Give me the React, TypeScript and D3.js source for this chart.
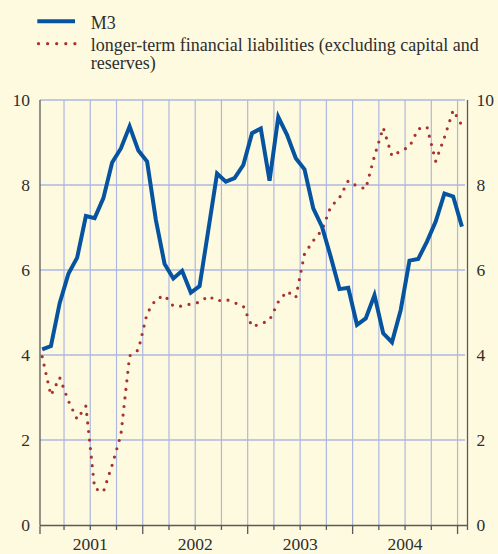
import React from "react";
import * as d3 from "d3";

// Monthly observations, Jan 2001 – Jan 2005 (annual % changes)
const m3Values = [
  4.13, 4.21, 5.22, 5.91, 6.29, 7.27, 7.22, 7.69, 8.53, 8.86, 9.38, 8.81,
  8.55, 7.18, 6.14, 5.8, 5.98, 5.47, 5.62, 6.94, 8.27, 8.08, 8.16, 8.47,
  9.22, 9.33, 8.1, 9.6, 9.18, 8.63, 8.37, 7.45, 7.02, 6.31, 5.55, 5.58,
  4.71, 4.86, 5.41, 4.51, 4.3, 5.06, 6.22, 6.26, 6.67, 7.14, 7.8, 7.73,
  7.02,
];
const longerTermValues = [
  3.96, 3.05, 3.47, 2.92, 2.49, 2.8, 0.86, 0.78, 1.41, 2.12, 3.98, 4.12,
  4.98, 5.31, 5.4, 5.15, 5.15, 5.2, 5.24, 5.39, 5.27, 5.31, 5.23, 5.15,
  4.67, 4.73, 4.82, 5.25, 5.5, 5.35, 6.38, 6.69, 6.94, 7.49, 7.7, 8.1,
  7.97, 7.91, 8.68, 9.35, 8.68, 8.8, 8.9, 9.32, 9.37, 8.56, 9.12, 9.76,
  9.4,
];
const years = ["2001", "2002", "2003", "2004"];
const yTicks = [0, 2, 4, 6, 8, 10];
const seriesLabels = [
  "M3",
  "longer-term financial liabilities (excluding capital and",
  "reserves)",
];

const W = 498;
const H = 554;
const BG = "#FEFADF";
const GRID = "#AEB7DF";
const AXIS = "#5a5a5a";
const TEXT = "#2e2e2e";
const BLUE = "#0653A0";
const RED = "#A8332E";
const FONT = "'Liberation Serif', 'Times New Roman', serif";

export default function App() {
  const nMonths = 49;
  const x = d3.scaleLinear().domain([0, nMonths]).range([37.8, 466.3]);
  const y = d3.scaleLinear().domain([0, 10]).range([525, 100]);
  const plotLeft = 40;
  const plotRight = 467.5;
  const gridRight = 465;

  const line = d3
    .line<number>()
    .x((_, i) => x(i + 0.5))
    .y((d) => y(d));

  const quarterIdx = d3.range(3, 49, 3); // Apr 2001 ... Jan 2005
  const allTickIdx = d3.range(0, 49, 3);

  return (
    <svg
      width={W}
      height={H}
      style={{ position: "fixed", top: 0, left: 0, display: "block" }}
    >
      <rect x={0} y={0} width={W} height={H} fill={BG} />

      {/* legend */}
      <line x1={37.3} x2={75} y1={21.3} y2={21.3} stroke={BLUE} strokeWidth={4} />
      {d3.range(5).map((k) => (
        <circle key={k} cx={38.5 + k * 9.1} cy={43.7} r={1.6} fill={RED} />
      ))}
      <g fontFamily={FONT} fontSize={18} fill={TEXT}>
        <text x={90.7} y={28.8}>{seriesLabels[0]}</text>
        <text x={90.7} y={50.5}>{seriesLabels[1]}</text>
        <text x={90.7} y={69}>{seriesLabels[2]}</text>
      </g>

      {/* grid */}
      {yTicks.slice(1).map((t) => (
        <line
          key={"h" + t}
          x1={plotLeft}
          x2={gridRight}
          y1={y(t)}
          y2={y(t)}
          stroke={GRID}
          strokeWidth={1.4}
        />
      ))}
      {quarterIdx.map((q) => (
        <line
          key={"v" + q}
          x1={x(q)}
          x2={x(q)}
          y1={y(10)}
          y2={y(0)}
          stroke={GRID}
          strokeWidth={1.2}
        />
      ))}

      {/* axes */}
      <line x1={plotLeft} x2={plotLeft} y1={y(10)} y2={y(0)} stroke={AXIS} strokeWidth={1.3} />
      <line x1={plotRight} x2={plotRight} y1={y(10)} y2={y(0)} stroke={AXIS} strokeWidth={1.3} />
      <line x1={plotLeft} x2={plotRight} y1={y(0) + 0.5} y2={y(0) + 0.5} stroke={AXIS} strokeWidth={1.5} />
      {allTickIdx.map((q) => (
        <line
          key={"t" + q}
          x1={Math.max(x(q), plotLeft)}
          x2={Math.max(x(q), plotLeft)}
          y1={y(0) + 0.5}
          y2={y(0) + (q % 12 === 0 ? 9 : 5)}
          stroke={AXIS}
          strokeWidth={1.3}
        />
      ))}
      <line x1={plotRight} x2={plotRight} y1={y(0)} y2={y(0) + 5} stroke={AXIS} strokeWidth={1.3} />

      {/* tick labels */}
      <g fontFamily={FONT} fontSize={17.5} fill={TEXT}>
        {yTicks.map((t) => (
          <text key={"l" + t} x={30} y={y(t) + 5.5} textAnchor="end">
            {t}
          </text>
        ))}
        {yTicks.map((t) => (
          <text key={"r" + t} x={476.5} y={y(t) + 5.5} textAnchor="start">
            {t}
          </text>
        ))}
        {years.map((yr, k) => (
          <text key={yr} x={x(k * 12 + 6)} y={550} textAnchor="middle">
            {yr}
          </text>
        ))}
      </g>

      {/* series */}
      <path
        d={line(longerTermValues) || ""}
        fill="none"
        stroke={RED}
        strokeWidth={3.2}
        strokeLinecap="round"
        strokeDasharray="0 8.6"
      />
      <path
        d={line(m3Values) || ""}
        fill="none"
        stroke={BLUE}
        strokeWidth={4}
        strokeLinejoin="miter"
      />
    </svg>
  );
}
